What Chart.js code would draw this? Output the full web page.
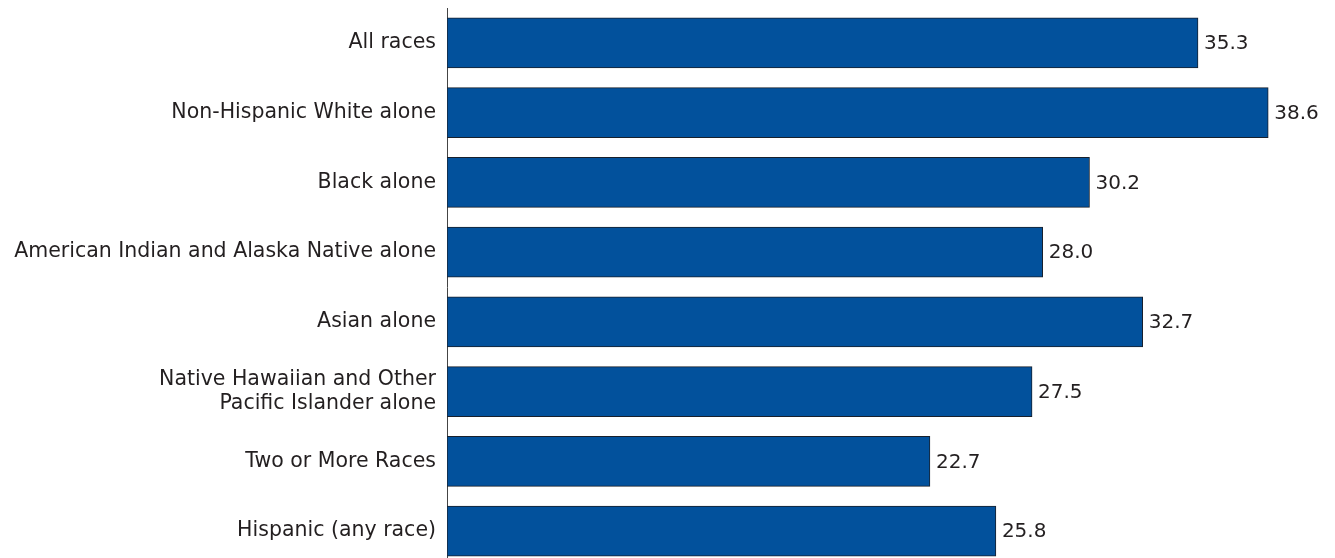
<!DOCTYPE html>
<html>
<head>
<meta charset="utf-8">
<script src="https://cdn.jsdelivr.net/npm/chart.js@4/dist/chart.umd.min.js"></script>
<style>
  html, body { margin: 0; padding: 0; background: #fff; overflow: hidden; }
  #wrap { width: 1335px; height: 566px; }
</style>
</head>
<body>
<div id="wrap"><canvas id="barchart"></canvas></div>
<script>
const categories = [
  "All races",
  "Non-Hispanic White alone",
  "Black alone",
  "American Indian and Alaska Native alone",
  "Asian alone",
  ["Native Hawaiian and Other", "Pacific Islander alone"],
  "Two or More Races",
  "Hispanic (any race)",
];
const values = [35.3, 38.6, 30.2, 28.0, 32.7, 27.5, 22.7, 25.8];

const textColor = "#231f20";
const fontFamily = "'DejaVu Sans', Verdana, sans-serif";

// writes the value just right of each bar
const valueLabels = {
  id: "valueLabels",
  afterDatasetsDraw(chart) {
    const c = chart.ctx;
    const meta = chart.getDatasetMeta(0);
    c.save();
    c.font = "20px " + fontFamily;
    c.fillStyle = textColor;
    c.textAlign = "left";
    c.textBaseline = "middle";
    meta.data.forEach(function (bar, i) {
      c.fillText(values[i].toFixed(1), bar.x + 6, bar.y + 1);
    });
    c.restore();
  },
};

new Chart(document.getElementById("barchart"), {
  type: "bar",
  data: {
    labels: categories,
    datasets: [
      {
        data: values,
        backgroundColor: "#02519c",
        borderColor: "#18202c",
        borderWidth: 1,
        borderSkipped: false,
        barThickness: 50,
      },
    ],
  },
  options: {
    indexAxis: "y",
    responsive: true,
    maintainAspectRatio: false,
    animation: false,
    layout: { padding: { top: 8, right: 37, bottom: 0, left: 0 } },
    plugins: {
      legend: { display: false },
      tooltip: { enabled: false },
    },
    scales: {
      x: { display: false, min: 0, max: 40 },
      y: {
        grid: { display: false, drawTicks: false },
        border: { display: true, color: "#444", width: 1 },
        ticks: {
          color: textColor,
          padding: 11,
          font: { family: fontFamily, size: 20.5, lineHeight: 1.15 },
        },
        afterFit(scale) {
          scale.width = 447;
          scale.paddingTop = 0;
          scale.paddingBottom = 0;
        },
      },
    },
  },
  plugins: [valueLabels],
});
</script>
</body>
</html>
